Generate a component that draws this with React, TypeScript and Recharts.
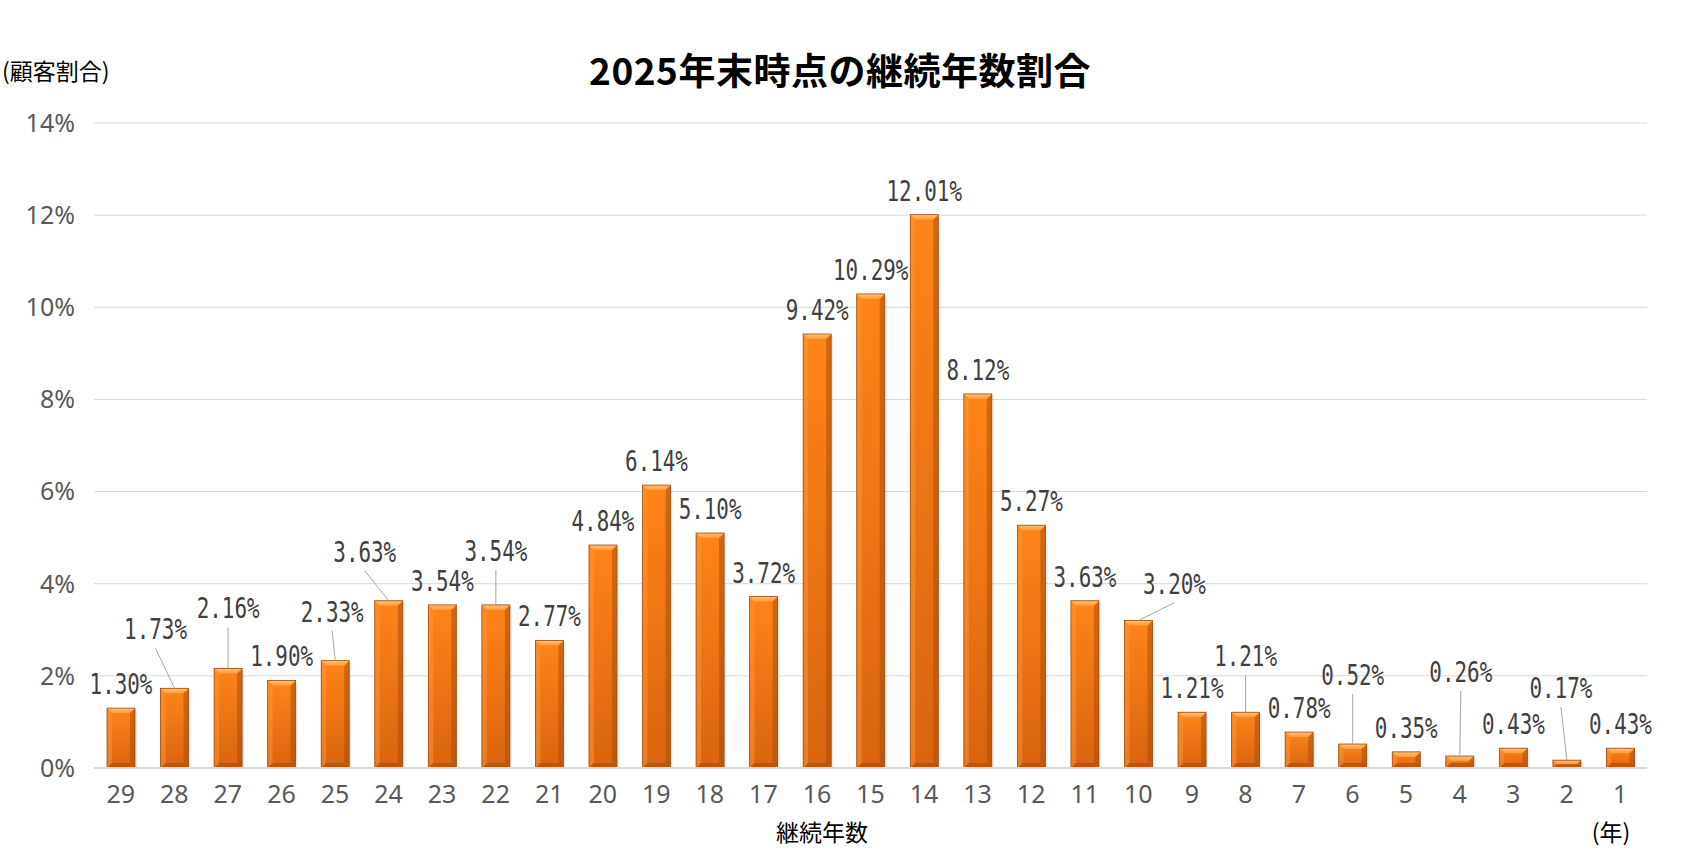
import { BarChart, Bar, XAxis, YAxis, CartesianGrid, LabelList } from "recharts";

const years = ["29", "28", "27", "26", "25", "24", "23", "22", "21", "20", "19", "18", "17", "16", "15", "14", "13", "12", "11", "10", "9", "8", "7", "6", "5", "4", "3", "2", "1"];
const shares = [1.3, 1.73, 2.16, 1.9, 2.33, 3.63, 3.54, 3.54, 2.77, 4.84, 6.14, 5.1, 3.72, 9.42, 10.29, 12.01, 8.12, 5.27, 3.63, 3.2, 1.21, 1.21, 0.78, 0.52, 0.35, 0.26, 0.43, 0.17, 0.43];
const yTicks = [0, 2, 4, 6, 8, 10, 12, 14];

// labels that were moved off their bar, with a leader line: [dx, raise]
const labelNudge: Record<number, [number, number]> = {
  1: [-19, 35],
  2: [0, 36],
  4: [-3, 25],
  5: [-24, 25],
  7: [0, 30],
  19: [36, 13],
  21: [0, 32],
  23: [0, 45],
  25: [1, 60],
  27: [-6, 48],
};

const data = years.map((year, i) => ({ year, share: shares[i] }));

const jp = "'Noto Sans CJK JP', 'Noto Sans', sans-serif";

function BevelBar(props: any) {
  const { x, y, width, height } = props;
  if (!height || height <= 0) return null;
  const b = Math.min(5, height / 2, width / 4);
  const r = x + width;
  const btm = y + height;
  return (
    <g>
      <rect x={x + 2} y={y + 2} width={width} height={height - 1} fill="#000" opacity={0.07} />
      <rect x={x} y={y} width={width} height={height} fill="url(#barFill)" />
      <polygon points={`${x},${y} ${x + b},${y + b} ${x + b},${btm - b} ${x},${btm}`} fill="#ff9636" opacity={0.5} />
      <polygon points={`${r},${y} ${r - b},${y + b} ${r - b},${btm - b} ${r},${btm}`} fill="#a84a06" opacity={0.5} />
      <polygon points={`${x},${btm} ${x + b},${btm - b} ${r - b},${btm - b} ${r},${btm}`} fill="#9a4306" opacity={0.45} />
      <polygon points={`${x},${y} ${r},${y} ${r - b},${y + b} ${x + b},${y + b}`} fill="url(#bevelTop)" />
      <rect x={x} y={y} width={width} height={height} fill="none" stroke="#9a4a0c" strokeWidth={0.8} />
    </g>
  );
}

function ShareLabel(props: any) {
  const vb = props.viewBox ?? {};
  const x = props.x ?? vb.x;
  const y = props.y ?? vb.y;
  const width = props.width ?? vb.width;
  const { value, index } = props;
  if (x == null || value == null) return null;
  const cx = x + width / 2;
  const [dx, raise] = labelNudge[index] ?? [0, 0];
  const lx = cx + dx;
  const ly = y - 24 - raise;
  return (
    <g>
      {raise > 0 && <line x1={lx} y1={ly + 19} x2={cx} y2={y} stroke="#a6a6a6" strokeWidth={1} />}
      <text
        transform={`translate(${lx},${ly + 10}) scale(0.76,1)`}
        textAnchor="middle"
        fontFamily="'DejaVu Sans Mono', monospace"
        fontSize={27.5}
        fill="#404040"
      >
        {Number(value).toFixed(2)}%
      </text>
    </g>
  );
}

export default function App() {
  return (
    <div style={{ position: "absolute", left: 0, top: 0, width: 1681, height: 867, background: "#fff" }}>
      <BarChart width={1681} height={867} data={data} margin={{ top: 123, right: 34, left: 0, bottom: 0 }}>
        <defs>
          <linearGradient id="barFill" x1="0" y1="0" x2="0" y2="1">
            <stop offset="0%" stopColor="#ff8418" />
            <stop offset="100%" stopColor="#d9640e" />
          </linearGradient>
          <linearGradient id="bevelTop" x1="0" y1="0" x2="0" y2="1">
            <stop offset="0%" stopColor="#ffc27a" />
            <stop offset="100%" stopColor="#ff9a3a" />
          </linearGradient>
        </defs>
        <CartesianGrid vertical={false} stroke="#d9d9d9" />
        <XAxis
          dataKey="year"
          height={99}
          tickSize={0}
          tickMargin={17}
          axisLine={{ stroke: "#d9d9d9", strokeWidth: 2 }}
          tickLine={false}
          tick={{ fill: "#595959", fontSize: 25, fontFamily: "'Noto Sans', sans-serif" }}
          interval={0}
        />
        <YAxis
          width={94}
          domain={[0, 14]}
          ticks={yTicks}
          tickSize={0}
          tickMargin={19}
          axisLine={false}
          tickLine={false}
          tickFormatter={(v: number) => `${v}%`}
          tick={{ fill: "#595959", fontSize: 25, fontFamily: "'Noto Sans', sans-serif" }}
        />
        <Bar dataKey="share" barSize={28} shape={<BevelBar />} isAnimationActive={false}>
          <LabelList dataKey="share" content={<ShareLabel />} />
        </Bar>
      </BarChart>
      <svg width={1681} height={867} style={{ position: "absolute", left: 0, top: 0, pointerEvents: "none" }}>
        <text x={840} y={85} textAnchor="middle" fontFamily={jp} fontWeight={700} fontSize={37} letterSpacing={0.5} fill="#000">
          2025年末時点の継続年数割合
        </text>
        <text x={2} y={80} fontFamily={jp} fontSize={23} fill="#000">
          (顧客割合)
        </text>
        <text x={822} y={841} textAnchor="middle" fontFamily={jp} fontSize={23} fill="#000">
          継続年数
        </text>
        <text x={1611} y={841} textAnchor="middle" fontFamily={jp} fontSize={23} fill="#000">
          (年)
        </text>
      </svg>
    </div>
  );
}
